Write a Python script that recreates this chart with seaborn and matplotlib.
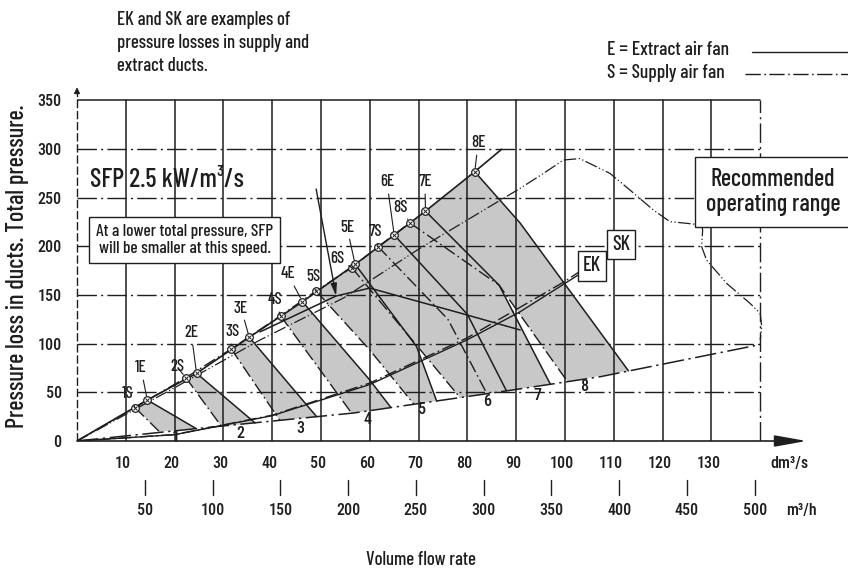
import numpy as np
import pandas as pd
import matplotlib.pyplot as plt
import seaborn as sns

# --- Data (flow in dm3/s, pressure in Pa) ---
x_grid = [10, 20, 30, 40, 50, 60, 70, 80, 90, 100, 110, 120, 130]
x_edge = 140
y_grid = [50, 100, 150, 200, 250, 300]
y_top = 350
y_ticks = [0, 50, 100, 150, 200, 250, 300, 350]
m3h_ticks = [50, 100, 150, 200, 250, 300, 350, 400, 450, 500]

# operating points on the top curve
pt_names = ["1S", "1E", "2S", "2E", "3S", "3E", "4S", "4E",
            "5S", "6S", "5E", "7S", "6E", "8S", "7E", "8E"]
pt_x = [11.9, 14.4, 22.3, 24.5, 31.6, 35.3, 41.7, 46.2,
        49.0, 56.3, 57.0, 61.7, 65.0, 68.2, 71.4, 81.5]
pt_y = [34.2, 42.1, 65.0, 69.5, 94.5, 106.5, 128.6, 143.0,
        154.0, 178.0, 181.4, 199.5, 211.5, 224.0, 236.0, 276.5]
lab_x = [10.3, 13.1, 20.5, 23.4, 31.8, 33.6, 40.6, 43.2,
         48.4, 53.3, 55.3, 61.1, 63.5, 66.2, 71.3, 82.2]
lab_y = [49, 75, 76, 111, 112, 136.5, 144.8, 171.5,
         168.4, 186.9, 219.7, 214.6, 266, 240.2, 266, 306]

# top curves (E solid, S dash-dot)
e_top_x = [0, 14.4, 24.5, 35.3, 46.2, 57.0, 65.0, 71.4, 81.5, 87.0]
e_top_y = [0, 42.1, 69.5, 106.5, 143.0, 181.4, 211.5, 236.0, 276.5, 299.5]
s_top_x = [0, 11.9, 22.3, 31.6, 41.7, 49.0, 56.3, 61.7, 68.2]
s_top_y = [0, 34.2, 65.0, 94.5, 128.6, 154.0, 178.0, 199.5, 224.0]

# lower limit curve
low_x = [0, 25, 56.6, 89.3, 107.2, 140]
low_y = [0, 13, 28.7, 52.4, 66, 99]

# fan curves per speed 1..8
s_curve_x = [[11.9, 16.9], [22.3, 29.6], [31.6, 41.6], [41.7, 56.3],
             [49.0, 60.0, 69.0], [56.3, 69.8, 78.5], [61.7, 76.0, 84.0], [68.2, 86.5, 100.5]]
s_curve_y = [[34.2, 9.5], [65.0, 15.0], [94.5, 21.0], [128.6, 28.4],
             [154.0, 93.4, 38.0], [178.0, 97.0, 44.5], [199.5, 125.0, 48.5], [224.0, 160.0, 61.0]]
e_curve_x = [[14.4, 24.5], [24.5, 36.5], [35.3, 49.1], [46.2, 60.0, 64.3],
             [57.0, 69.6, 73.7], [65.0, 80.0, 88.0], [71.4, 86.5, 97.0], [81.5, 90.8, 113.0]]
e_curve_y = [[42.1, 12.5], [69.5, 18.5], [106.5, 25.0], [143.0, 62.6, 34.5],
             [181.4, 96.8, 41.0], [211.5, 130.0, 51.5], [236.0, 160.0, 58.3], [276.5, 223.8, 72.0]]
speed_lab_x = [20.3, 33.4, 45.7, 59.6, 70.7, 84.0, 94.3, 104.0]
speed_lab_y = [4, 8, 13, 22, 32, 41, 47, 56]

# duct system curves
ek_x = [0, 20, 40, 60, 80, 90.8, 102.7]
ek_y = [0, 6.5, 26, 58, 104, 132.7, 170.4]
sk_x = [0, 20, 40, 60, 80, 100, 107.5]
sk_y = [0, 6.6, 26.5, 59.5, 106, 164, 189]

# SFP 2.5 iso-line
sfp_x = [37.5, 53.1, 60.0, 78.5, 90.8]
sfp_y = [112.0, 148.9, 157.0, 131.4, 114.0]

# recommended operating range boundary
rec_x = [0, 20, 37.5, 54.6, 70, 90.8, 95.6, 99.7, 103, 109.2, 113.3, 118.1, 121.5,
         124.9, 128, 128.2, 128, 129, 133.1, 137.9, 140, 140.3, 140]
rec_y = [0, 54.7, 103.7, 146.8, 197, 259.4, 274.8, 288.5, 290, 274.8, 257.7, 237.2, 225.2,
         223.5, 221.8, 216.6, 199.5, 185.8, 161.9, 141.4, 131, 117.3, 103.7]

# --- Style ---
sns.set_theme(style="white")
plt.rcParams['font.family'] = ['Barlow Condensed', 'DejaVu Sans']
plt.rcParams['font.weight'] = 'medium'
num_font = ['Roboto Condensed', 'DejaVu Sans']
ink = "#1e1e1e"
gray = "#c8c8c8"
dashdot = (0, (14, 3, 1.5, 3))
dashdot2 = (0, (9, 2.5, 1.2, 2.5))

fig = plt.figure(figsize=(8.48, 5.72), dpi=100)
ax = fig.add_axes([77 / 848, 131 / 572, 733 / 848, 355.5 / 572])
ax.set_xlim(0, 150.2)
ax.set_ylim(0, 365)
for s in ax.spines.values():
    s.set_visible(False)

# --- Grid ---
for v in x_grid:
    ax.plot([v, v], [0, y_top], color=ink, lw=1.1, zorder=1)
ax.plot([x_edge, x_edge], [0, y_top], color=ink, lw=1.0, ls=dashdot, zorder=1)
for v in y_grid:
    ax.plot([0, x_edge], [v, v], color=ink, lw=1.0, ls=dashdot, zorder=1)
ax.plot([0, x_edge], [y_top, y_top], color=ink, lw=1.1, zorder=1)

# axes with arrows
ax.plot([0, 0], [0, 358], color=ink, lw=1.0, ls=(0, (6, 2)), zorder=1, clip_on=False)
ax.annotate("", xy=(0, 366), xytext=(0, 354),
            arrowprops=dict(arrowstyle="-|>", color=ink, lw=0.8, mutation_scale=9),
            annotation_clip=False)
ax.annotate("", xy=(149.5, 0), xytext=(0, 0),
            arrowprops=dict(arrowstyle="-|>,head_length=1.4,head_width=0.25", color=ink, lw=1.2,
                            mutation_scale=14, shrinkA=0, shrinkB=0),
            annotation_clip=False)

# --- Gray bands ---
for i in range(8):
    px = s_curve_x[i] + e_curve_x[i][::-1]
    py = s_curve_y[i] + e_curve_y[i][::-1]
    ax.fill(px, py, color=gray, lw=0, zorder=0.5)

# --- Curves ---
for i in range(8):
    sns.lineplot(x=s_curve_x[i], y=s_curve_y[i], ax=ax, color=ink, lw=1.0,
                 linestyle=dashdot2, sort=False, estimator=None, zorder=3)
    sns.lineplot(x=e_curve_x[i], y=e_curve_y[i], ax=ax, color=ink, lw=1.1,
                 sort=False, estimator=None, zorder=3)

sns.lineplot(x=e_top_x, y=e_top_y, ax=ax, color=ink, lw=1.2, sort=False, estimator=None, zorder=3)
sns.lineplot(x=s_top_x, y=s_top_y, ax=ax, color=ink, lw=1.0, linestyle=dashdot2,
             sort=False, estimator=None, zorder=3)
sns.lineplot(x=low_x, y=low_y, ax=ax, color=ink, lw=1.1, linestyle=dashdot,
             sort=False, estimator=None, zorder=3)
sns.lineplot(x=ek_x, y=ek_y, ax=ax, color=ink, lw=1.0, sort=False, estimator=None, zorder=3)
sns.lineplot(x=sk_x, y=sk_y, ax=ax, color=ink, lw=1.0, linestyle=dashdot2,
             sort=False, estimator=None, zorder=3)
sns.lineplot(x=sfp_x, y=sfp_y, ax=ax, color=ink, lw=1.1, sort=False, estimator=None, zorder=3)
sns.lineplot(x=rec_x, y=rec_y, ax=ax, color=ink, lw=0.9, linestyle=(0, (10, 2, 1, 2, 1, 2)),
             sort=False, estimator=None, zorder=3)

# operating points and labels
sns.scatterplot(x=pt_x, y=pt_y, ax=ax, s=30, facecolor="white", edgecolor=ink,
                linewidth=0.9, zorder=6)
sns.scatterplot(x=pt_x, y=pt_y, ax=ax, s=8, marker="x", color=ink, linewidth=0.7, zorder=7)
for name, x, y, lx, ly in zip(pt_names, pt_x, pt_y, lab_x, lab_y):
    ax.annotate(name, xy=(x, y), xytext=(lx, ly), fontsize=12, ha="center", va="center",
                color=ink, zorder=8,
                arrowprops=dict(arrowstyle="-", color=ink, lw=0.8, shrinkA=1, shrinkB=3))

for k in range(8):
    ax.text(speed_lab_x[k], speed_lab_y[k], str(k + 1), fontsize=11.5, ha="center",
            va="center", color=ink, zorder=8, family=num_font)

# SFP arrow
ax.annotate("", xy=(sfp_x[1], sfp_y[1]), xytext=(49.0, 258.7),
            arrowprops=dict(arrowstyle="-|>,head_length=0.6,head_width=0.15", color=ink, lw=1.0,
                            mutation_scale=12, shrinkA=0, shrinkB=0), zorder=7)

# --- Annotation texts ---
ax.text(2.7, 268, "SFP 2.5 kW/m³/s", fontsize=19, ha="left", va="center", color=ink, zorder=8)
ax.text(22.1, 206.4, "At a lower total pressure, SFP\nwill be smaller at this speed.",
        fontsize=12.5, ha="center", va="center", color=ink, linespacing=1.15, zorder=8,
        bbox=dict(boxstyle="square,pad=0.4", fc="white", ec=ink, lw=1.0))
ax.text(142.6, 255.6, "Recommended\noperating range", fontsize=17.5, ha="center", va="center",
        color=ink, linespacing=1.15, zorder=8,
        bbox=dict(boxstyle="square,pad=0.45", fc="white", ec=ink, lw=1.0), clip_on=False)
ax.text(105.5, 179.7, "EK", fontsize=14.5, ha="center", va="center", color=ink, zorder=8,
        bbox=dict(boxstyle="square,pad=0.25", fc="white", ec=ink, lw=1.0))
ax.text(111.5, 202, "SK", fontsize=14.5, ha="center", va="center", color=ink, zorder=8,
        bbox=dict(boxstyle="square,pad=0.25", fc="white", ec=ink, lw=1.0))

# --- Axis labels ---
ax.set_xticks([])
ax.set_yticks(y_ticks)
ax.set_yticklabels([str(v) for v in y_ticks], fontsize=11.5, color=ink, family=num_font)
ax.tick_params(axis="y", length=0, pad=11)

for v in x_grid:
    ax.text(v - 0.6, -22.6, str(v), fontsize=11.5, ha="center", va="center", color=ink,
            clip_on=False, family=num_font)
ax.text(146, -22.6, "dm³/s", fontsize=11.5, ha="center", va="center", color=ink, family=num_font)
for v in m3h_ticks:
    ax.plot([v / 3.6, v / 3.6], [-40, -55], color=ink, lw=1.0, clip_on=False)
    ax.text(v / 3.6, -71, str(v), fontsize=11.5, ha="center", va="center", color=ink, family=num_font)
ax.text(148.5, -71, "m³/h", fontsize=11.5, ha="center", va="center", color=ink, family=num_font)

fig.text(421 / 848, 1 - 560 / 572, "Volume flow rate", fontsize=13.5, ha="center", va="center", color=ink)
fig.text(18 / 848, 1 - 266 / 572, "Pressure loss in ducts. Total pressure.", fontsize=17.5,
         rotation=90, ha="center", va="center", color=ink)
fig.text(117 / 848, 1 - 43 / 572, "EK and SK are examples of\npressure losses in supply and\nextract ducts.",
         fontsize=13.5, ha="left", va="center", linespacing=1.35, color=ink)

# legend for line styles
fig.text(607 / 848, 1 - 50 / 572, "E = Extract air fan", fontsize=14, ha="left", va="center", color=ink)
fig.text(607 / 848, 1 - 73 / 572, "S = Supply air fan", fontsize=14, ha="left", va="center", color=ink)
fig.add_artist(plt.Line2D([752 / 848, 848 / 848], [1 - 52 / 572, 1 - 52 / 572], color=ink, lw=1.0))
fig.add_artist(plt.Line2D([745 / 848, 848 / 848], [1 - 74 / 572, 1 - 74 / 572], color=ink, lw=1.0,
                          ls=(0, (11, 2.5, 1.2, 2.5))))

fig.savefig("out.png", dpi=100)
